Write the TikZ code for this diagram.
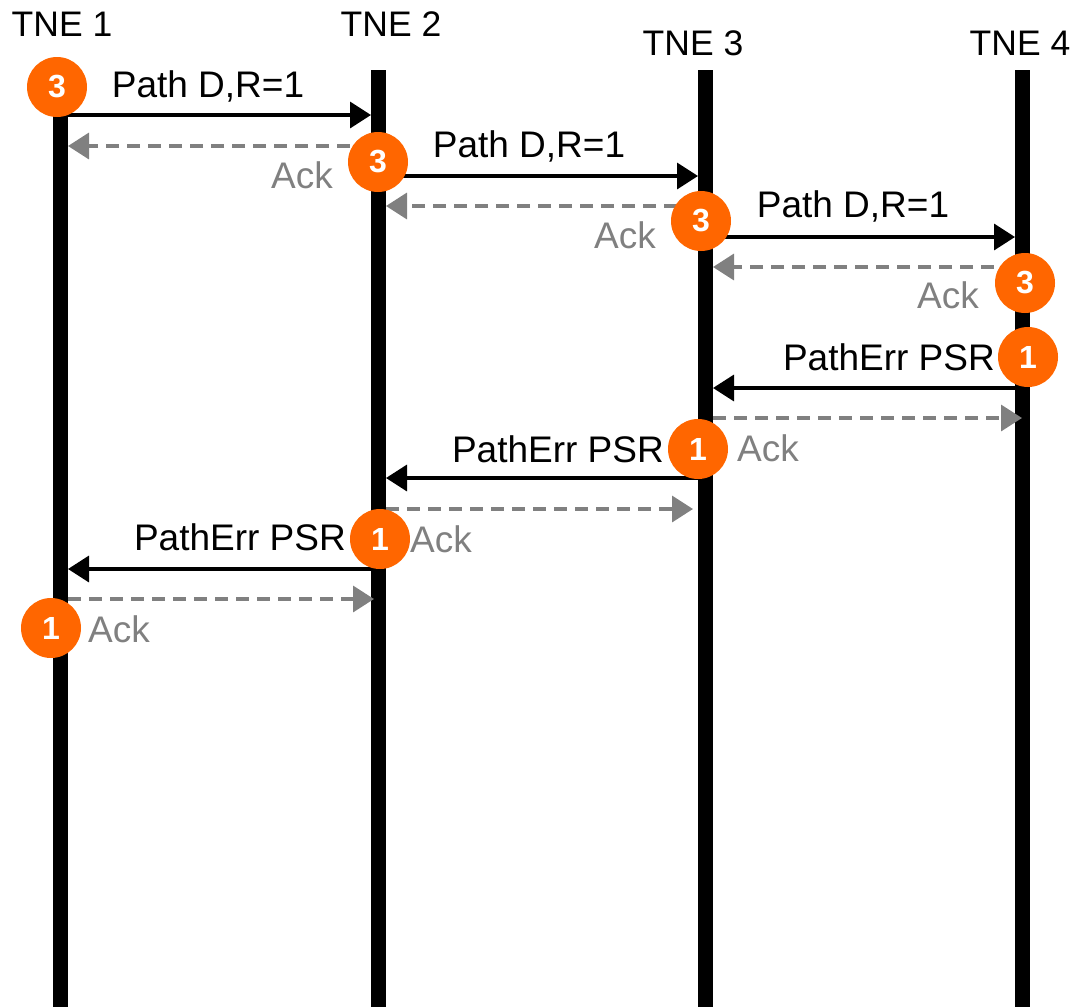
\documentclass[tikz,border=0pt]{standalone}
\usepackage{fontspec}
\setmainfont{Liberation Sans}
\usetikzlibrary{arrows.meta}
\definecolor{orangeC}{RGB}{255,102,0}
\definecolor{grayC}{RGB}{128,128,128}
\begin{document}
\begin{tikzpicture}[x=1pt,y=-1pt,
  lifeline/.style={line width=15pt},
  msg/.style={line width=3.5pt,-{Triangle[length=21pt,width=26pt]}},
  ackmsg/.style={line width=3.5pt,grayC,dash pattern=on 13pt off 8pt,-{Triangle[length=21pt,width=26pt]}},
  badge/.style={circle,fill=orangeC,minimum size=60pt,inner sep=0pt,text=white,font=\fontsize{32}{36}\selectfont\bfseries},
  hdr/.style={inner sep=0pt,font=\fontsize{35.5}{40}\selectfont},
  lbl/.style={inner sep=0pt,font=\fontsize{37}{42}\selectfont},
  acklbl/.style={lbl,text=grayC,anchor=base west},
  ]
\useasboundingbox (0,0) rectangle (1073,1007);
% lifelines
\coordinate (l1t) at (60.5,100); \coordinate (l1b) at (60.5,1007);
\coordinate (l2t) at (378,70);   \coordinate (l2b) at (378,1007);
\coordinate (l3t) at (705,70);   \coordinate (l3b) at (705,1007);
\coordinate (l4t) at (1022,70);  \coordinate (l4b) at (1022,1007);
\draw[lifeline] (l1t) -- (l1b);
\draw[lifeline] (l2t) -- (l2b);
\draw[lifeline] (l3t) -- (l3b);
\draw[lifeline] (l4t) -- (l4b);
% titles
\node[hdr,anchor=base] (h1) at (62,36) {TNE 1};
\node[hdr,anchor=base] (h2) at (391,36) {TNE 2};
\node[hdr,anchor=base] (h3) at (693,55) {TNE 3};
\node[hdr,anchor=base] (h4) at (1020,55) {TNE 4};
% message end points
\coordinate (m1s) at (68,115);   \coordinate (m1e) at (371,115);
\coordinate (m2s) at (371,146);  \coordinate (m2e) at (68,146);
\coordinate (m3s) at (386,176);  \coordinate (m3e) at (698,176);
\coordinate (m4s) at (698,206);  \coordinate (m4e) at (386,206);
\coordinate (m5s) at (713,237);  \coordinate (m5e) at (1015,237);
\coordinate (m6s) at (1015,267); \coordinate (m6e) at (713,267);
\coordinate (m7s) at (1015,388); \coordinate (m7e) at (713,388);
\coordinate (m8s) at (713,418);  \coordinate (m8e) at (1022,418);
\coordinate (m9s) at (698,478);  \coordinate (m9e) at (386,478);
\coordinate (m10s) at (386,509); \coordinate (m10e) at (693,509);
\coordinate (m11s) at (371,569); \coordinate (m11e) at (68,569);
\coordinate (m12s) at (68,599);  \coordinate (m12e) at (374,599);
\draw[msg] (m1s) -- (m1e);
\draw[ackmsg] (m2s) -- (m2e);
\draw[msg] (m3s) -- (m3e);
\draw[ackmsg] (m4s) -- (m4e);
\draw[msg] (m5s) -- (m5e);
\draw[ackmsg] (m6s) -- (m6e);
\draw[msg] (m7s) -- (m7e);
\draw[ackmsg] (m8s) -- (m8e);
\draw[msg] (m9s) -- (m9e);
\draw[ackmsg] (m10s) -- (m10e);
\draw[msg] (m11s) -- (m11e);
\draw[ackmsg] (m12s) -- (m12e);
% message labels
\node[lbl,anchor=base] (p1) at (208,97) {Path D,R=1};
\node[lbl,anchor=base] (p3) at (529,157) {Path D,R=1};
\node[lbl,anchor=base] (p5) at (853,217) {Path D,R=1};
\node[lbl,anchor=base east] (p7) at (995,370) {PathErr PSR};
\node[lbl,anchor=base east] (p9) at (664,462) {PathErr PSR};
\node[lbl,anchor=base east] (p11) at (346,550) {PathErr PSR};
\node[acklbl] (a2) at (271,188) {Ack};
\node[acklbl] (a4) at (594,248) {Ack};
\node[acklbl] (a6) at (917,308) {Ack};
\node[acklbl] (a8) at (737,461) {Ack};
\node[acklbl] (a10) at (410,552) {Ack};
\node[acklbl] (a12) at (88,642) {Ack};
% badges
\node[badge] (b1) at (57,87) {3};
\node[badge] (b2) at (378,162) {3};
\node[badge] (b3) at (701,221) {3};
\node[badge] (b4) at (1025,283) {3};
\node[badge] (b5) at (1028,357) {1};
\node[badge] (b6) at (698,449) {1};
\node[badge] (b7) at (380,539) {1};
\node[badge] (b8) at (51,628) {1};
\end{tikzpicture}
\end{document}
